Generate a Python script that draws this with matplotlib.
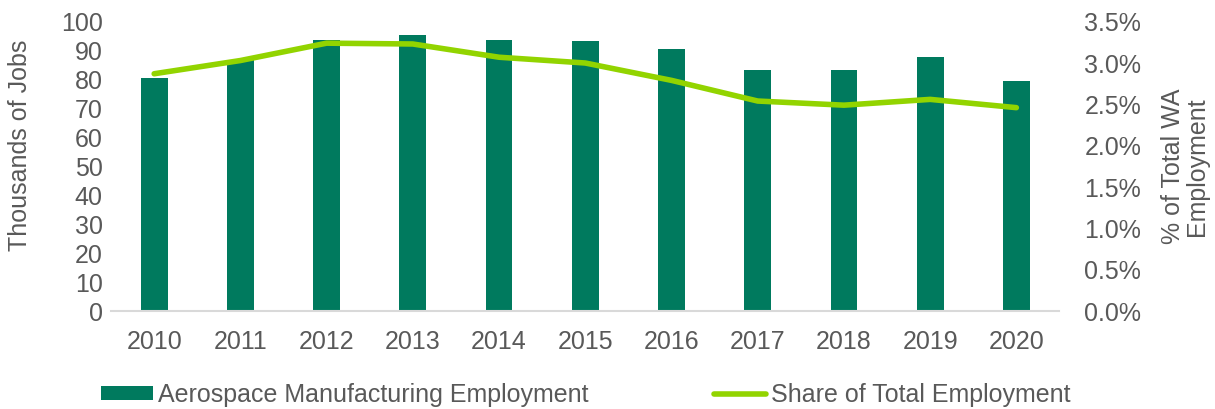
import numpy as np
import matplotlib.pyplot as plt
from matplotlib.ticker import FuncFormatter

plt.rcParams['font.family'] = ['Liberation Sans', 'DejaVu Sans']

years = ['2010', '2011', '2012', '2013', '2014', '2015',
         '2016', '2017', '2018', '2019', '2020']
jobs_thousands = [80.4, 86.6, 93.7, 95.4, 93.7, 93.2, 90.6, 83.4, 83.4, 87.8, 79.5]
share_pct = [2.87, 3.03, 3.24, 3.23, 3.07, 3.00, 2.79, 2.54, 2.49, 2.56, 2.46]

bar_color = '#007A5E'
line_color = '#92D400'
text_color = '#595959'
fs = 18

fig = plt.figure(figsize=(12.15, 4.09), dpi=100)
ax = fig.add_axes([0.0914, 0.2396, 0.7806, 0.7074])
ax2 = ax.twinx()

x = np.arange(len(years))
bars = ax.bar(x, jobs_thousands, width=0.31, color=bar_color, zorder=2,
              label='Aerospace Manufacturing Employment')
line, = ax2.plot(x, share_pct, color=line_color, linewidth=4,
                 solid_capstyle='round', solid_joinstyle='round',
                 label='Share of Total Employment')

ax.set_xlim(-0.5, len(years) - 0.5)
ax.set_ylim(0, 100)
ax.set_yticks(np.arange(0, 101, 10))
ax2.set_ylim(0, 3.5)
ax2.set_yticks(np.arange(0, 3.51, 0.5))
ax2.yaxis.set_major_formatter(FuncFormatter(lambda v, _: f'{v:.1f}%'))

ax.set_xticks(x)
ax.set_xticklabels(years)

for a in (ax, ax2):
    for side in ('top', 'left', 'right', 'bottom'):
        a.spines[side].set_visible(False)
    a.tick_params(length=0, labelsize=fs, labelcolor=text_color)
ax.spines['bottom'].set_visible(True)
ax.spines['bottom'].set_color('#D9D9D9')
ax.spines['bottom'].set_linewidth(1.5)
ax.tick_params(axis='x', pad=14)
ax.tick_params(axis='y', pad=6)
ax2.tick_params(axis='y', pad=18)

ax.set_ylabel('Thousands of Jobs', fontsize=fs, color=text_color)
ax.yaxis.set_label_coords(-0.083, 0.573)
ax2.set_ylabel('% of Total WA\nEmployment', fontsize=fs, color=text_color,
               labelpad=14, linespacing=1.0)

fig.legend(handles=[bars, line], loc='center left',
           bbox_to_anchor=(0.083, 0.035), ncol=2, frameon=False,
           fontsize=fs, labelcolor=text_color, handlelength=2.1,
           handleheight=0.5, handletextpad=0.2, columnspacing=5.0,
           borderpad=0, borderaxespad=0)

fig.savefig('out.png', dpi=100)
